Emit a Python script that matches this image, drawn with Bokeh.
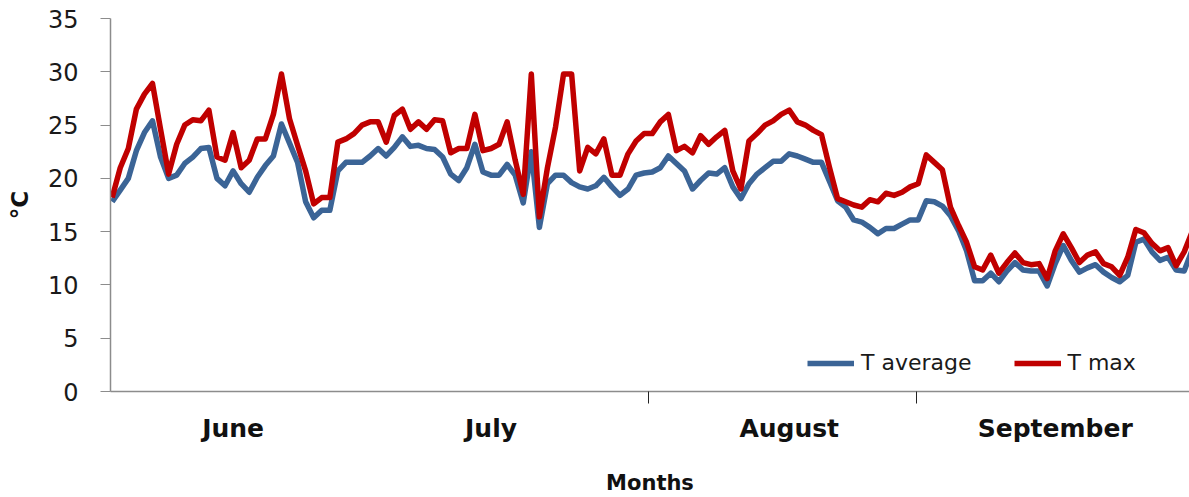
from bokeh.plotting import figure
from bokeh.models import Range1d, FixedTicker, Legend, LegendItem
from bokeh.embed import file_html
from bokeh.resources import INLINE

# ---- data (daily values) ----
t_max = [18.2, 21.0, 22.8, 26.5, 27.9, 28.9, 24.6, 20.4, 23.2, 25.0,
         25.5, 25.4, 26.4, 22.0, 21.7, 24.3, 21.0, 21.7, 23.7, 23.7,
         26.0, 29.8, 25.6, 23.1, 20.7, 17.6, 18.2, 18.2, 23.4, 23.7,
         24.2, 25.0, 25.3, 25.3, 23.4, 25.9, 26.5, 24.6, 25.3, 24.6,
         25.5, 25.4, 22.4, 22.8, 22.8, 26.0, 22.6, 22.8, 23.2, 25.3,
         21.7, 18.5, 29.8, 16.4, 21.0, 24.8, 29.8, 29.8, 20.7, 22.9,
         22.3, 23.7, 20.3, 20.3, 22.3, 23.5, 24.2, 24.2, 25.3, 26.0,
         22.6, 23.0, 22.4, 24.0, 23.2, 23.9, 24.5, 20.7, 19.0, 23.5,
         24.2, 25.0, 25.4, 26.0, 26.4, 25.3, 25.0, 24.5, 24.1, 21.0,
         18.1, 17.8, 17.5, 17.3, 18.0, 17.8, 18.6, 18.4, 18.7, 19.2,
         19.5, 22.2, 21.5, 20.8, 17.3, 15.6, 14.0, 11.7, 11.4, 12.8,
         11.1, 12.1, 13.0, 12.1, 11.9, 12.0, 10.6, 13.2, 14.8, 13.5,
         12.1, 12.8, 13.1, 12.0, 11.7, 10.9, 12.6, 15.2, 14.9, 13.9,
         13.2, 13.5, 11.8, 13.1, 15.0]

t_average = [17.8, 18.9, 20.0, 22.6, 24.3, 25.4, 22.0, 20.0, 20.3, 21.4,
             22.0, 22.8, 22.9, 20.0, 19.3, 20.7, 19.5, 18.7, 20.1, 21.2,
             22.1, 25.1, 23.3, 21.5, 17.8, 16.3, 17.0, 17.0, 20.7, 21.5,
             21.5, 21.5, 22.1, 22.8, 22.1, 22.9, 23.9, 23.0, 23.1, 22.8,
             22.7, 22.0, 20.4, 19.8, 21.0, 23.2, 20.6, 20.3, 20.3, 21.3,
             20.3, 17.7, 22.5, 15.4, 19.5, 20.3, 20.3, 19.6, 19.2, 19.0,
             19.3, 20.1, 19.2, 18.4, 19.0, 20.3, 20.5, 20.6, 21.0, 22.1,
             21.4, 20.7, 19.0, 19.8, 20.5, 20.4, 21.0, 19.2, 18.1, 19.5,
             20.4, 21.0, 21.6, 21.6, 22.3, 22.1, 21.8, 21.5, 21.5, 19.7,
             17.9, 17.3, 16.1, 15.9, 15.4, 14.8, 15.3, 15.3, 15.7, 16.1,
             16.1, 17.9, 17.8, 17.4, 16.5, 15.1, 13.2, 10.4, 10.4, 11.1,
             10.3, 11.3, 12.1, 11.4, 11.3, 11.3, 9.9, 12.0, 13.7, 12.3,
             11.2, 11.6, 11.9, 11.2, 10.7, 10.3, 10.9, 14.0, 14.3, 13.1,
             12.3, 12.6, 11.4, 11.3, 13.3]

month_names = ["June", "July", "August", "September"]
y_ticks = [0, 5, 10, 15, 20, 25, 30, 35]
series_names = ["T average", "T max"]

days = list(range(len(t_max)))

# ---- layout / style ----
BLUE = "#3B6496"
RED = "#C00000"
month_label_pos = [15, 47, 84, 117]
month_sep_ticks = [66.5, 99.8]

p = figure(width=1189, height=497, output_backend="svg", toolbar_location=None,
           x_range=Range1d(-0.21, 133.66), y_range=Range1d(0, 35),
           min_border_left=110, min_border_right=0, min_border_top=18,
           min_border_bottom=106)
p.outline_line_color = None
p.xgrid.visible = False
p.ygrid.visible = False
p.background_fill_color = "white"
p.border_fill_color = "white"

r_avg = p.line(days, t_average, line_color=BLUE, line_width=5.5, line_join="round")
r_max = p.line(days, t_max, line_color=RED, line_width=5.5, line_join="round")

legend = Legend(items=[LegendItem(label=series_names[0], renderers=[r_avg]),
                       LegendItem(label=series_names[1], renderers=[r_max])],
                orientation="horizontal", location=(697, 16),
                glyph_width=47, glyph_height=20, label_height=20,
                label_standoff=7, spacing=42, padding=0, margin=0,
                border_line_color=None, background_fill_alpha=0,
                label_text_font="DejaVu Sans", label_text_font_size="22px",
                label_text_color="#1a1a1a")
p.add_layout(legend)

xa = p.xaxis[0]
xa.ticker = FixedTicker(ticks=month_label_pos, minor_ticks=month_sep_ticks)
xa.major_label_overrides = {pos: name for pos, name in zip(month_label_pos, month_names)}
xa.major_tick_line_color = None
xa.major_tick_out = 0
xa.major_tick_in = 0
xa.minor_tick_line_color = "#222222"
xa.minor_tick_out = 12
xa.minor_tick_in = 0
xa.axis_line_color = "#8c8c8c"
xa.axis_line_width = 1.5
xa.major_label_standoff = 10
xa.major_label_text_font = "DejaVu Sans"
xa.major_label_text_font_style = "bold"
xa.major_label_text_font_size = "25px"
xa.major_label_text_color = "#111111"
xa.axis_label = "Months"
xa.axis_label_text_font = "DejaVu Sans"
xa.axis_label_text_font_style = "bold"
xa.axis_label_text_font_size = "21px"
xa.axis_label_text_color = "#111111"
xa.axis_label_standoff = 25

ya = p.yaxis[0]
ya.ticker = FixedTicker(ticks=y_ticks)
ya.major_tick_out = 10
ya.major_tick_in = 0
ya.minor_tick_line_color = None
ya.major_tick_line_color = "#8c8c8c"
ya.axis_line_color = "#8c8c8c"
ya.axis_line_width = 1.5
ya.major_label_standoff = 22
ya.major_label_text_font = "DejaVu Sans"
ya.major_label_text_font_size = "24px"
ya.major_label_text_color = "#1a1a1a"
ya.axis_label = "°C"
ya.axis_label_text_font = "DejaVu Sans"
ya.axis_label_text_font_style = "bold"
ya.axis_label_text_font_size = "23px"
ya.axis_label_text_color = "#111111"
ya.axis_label_standoff = 12

open("out.html", "w").write(file_html(p, INLINE))
